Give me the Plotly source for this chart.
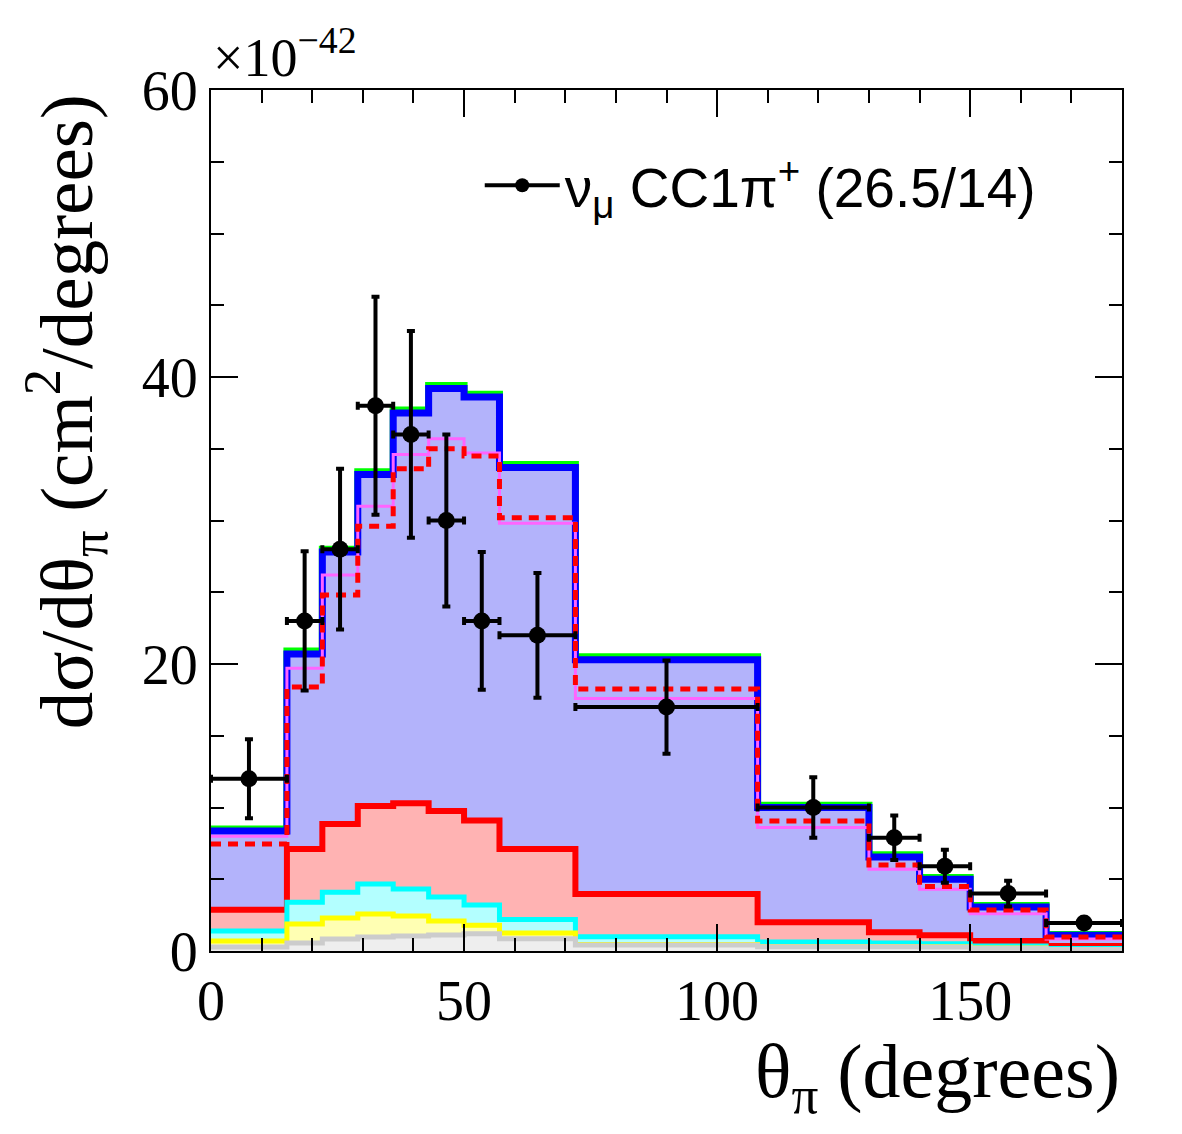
import plotly.graph_objects as go

# ---------------- data ----------------
bin_edges = [0, 15, 22, 29, 36, 43, 50, 57, 72, 108, 130, 140, 150, 165, 180]

# stacked model components (x1e-42 cm^2/degree), bottom to top
comp_gray   = [0.28, 0.56, 0.84, 0.98, 1.05, 1.12, 1.20, 0.85, 0.42, 0.30, 0.30, 0.28, 0.20, 0.10]
comp_yellow = [0.41, 1.32, 1.46, 1.60, 1.39, 0.97, 0.60, 0.40, 0.03, 0.02, 0.01, 0.01, 0.01, 0.01]
comp_cyan   = [0.70, 1.52, 1.80, 2.09, 1.88, 1.67, 1.40, 0.95, 0.55, 0.31, 0.24, 0.21, 0.14, 0.07]
comp_red    = [1.48, 3.70, 4.75, 5.43, 5.98, 6.00, 5.90, 4.90, 2.97, 1.37, 0.75, 0.60, 0.35, 0.17]
comp_blue   = [5.49, 13.60, 18.95, 23.10, 27.20, 29.44, 29.50, 26.60, 16.33, 8.00, 5.25, 3.90, 2.37, 0.75]
comp_green  = [0.15, 0.20, 0.20, 0.20, 0.20, 0.20, 0.20, 0.20, 0.20, 0.15, 0.15, 0.12, 0.10, 0.05]

# alternative model predictions
model_pink   = [8.0, 19.7, 26.2, 31.0, 34.6, 35.7, 34.7, 29.8, 17.6, 8.6, 5.7, 4.3, 2.6, 0.83]
model_dashed = [7.45, 18.4, 24.8, 29.6, 33.6, 35.0, 34.5, 30.2, 18.25, 9.06, 6.0, 4.5, 2.86, 0.98]

# data
data_y   = [12.0, 23.0, 28.0, 38.0, 36.0, 30.0, 23.0, 22.0, 17.0, 10.0, 7.9, 5.9, 4.0, 1.95]
data_err = [2.75, 4.85, 5.6, 7.6, 7.2, 6.0, 4.8, 4.35, 3.25, 2.1, 1.55, 1.15, 0.9, 0.3]

legend_label = "ν<sub>μ</sub> CC1π<sup>+</sup> (26.5/14)"
x_ticks = [0, 50, 100, 150]
y_ticks = [0, 20, 40, 60]

# ---------------- helpers ----------------
centers = [(a + b) / 2 for a, b in zip(bin_edges[:-1], bin_edges[1:])]
half_w = [(b - a) / 2 for a, b in zip(bin_edges[:-1], bin_edges[1:])]


def cumsum(*layers):
    out = [0.0] * len(layers[0])
    for l in layers:
        out = [o + v for o, v in zip(out, l)]
    return out


def step_y(vals):
    return list(vals) + [vals[-1]]


stack = [
    ("green", cumsum(comp_gray, comp_yellow, comp_cyan, comp_red, comp_blue, comp_green), "rgb(0,255,0)", "#b3ffb3", 7),
    ("blue", cumsum(comp_gray, comp_yellow, comp_cyan, comp_red, comp_blue), "rgb(0,0,255)", "#b3b3fb", 7),
    ("red", cumsum(comp_gray, comp_yellow, comp_cyan, comp_red), "rgb(255,0,0)", "#ffb3b3", 6),
    ("cyan", cumsum(comp_gray, comp_yellow, comp_cyan), "rgb(0,255,255)", "#b3ffff", 5),
    ("yellow", cumsum(comp_gray, comp_yellow), "rgb(255,255,0)", "#ffffb3", 5),
    ("gray", cumsum(comp_gray), "rgb(204,204,204)", "#eeeeee", 5),
]

fig = go.Figure()

for name, vals, lc, fc, lw in stack:
    fig.add_trace(go.Scatter(
        x=bin_edges, y=step_y(vals), mode="lines", line=dict(shape="hv", color=lc, width=lw),
        fill="tozeroy", fillcolor=fc, showlegend=False, hoverinfo="skip", name=name))

fig.add_trace(go.Scatter(
    x=bin_edges, y=step_y(model_pink), mode="lines",
    line=dict(shape="hv", color="rgb(255,100,255)", width=3), showlegend=False, hoverinfo="skip"))
fig.add_trace(go.Scatter(
    x=bin_edges, y=step_y(model_dashed), mode="lines",
    line=dict(shape="hv", color="rgb(255,0,0)", width=5, dash="10px,7px"), showlegend=False, hoverinfo="skip"))

# data points with errors
fig.add_trace(go.Scatter(
    x=centers, y=data_y, mode="markers", name=legend_label,
    marker=dict(color="black", size=17, symbol="circle"),
    error_y=dict(type="data", array=data_err, color="black", thickness=4, width=4),
    error_x=dict(type="data", array=half_w, color="black", thickness=4, width=4),
    showlegend=False))
# legend entry (line + marker glyph)
fig.add_trace(go.Scatter(x=[None], y=[None], mode="lines+markers", name=legend_label,
                         line=dict(color="black", width=4),
                         marker=dict(color="black", size=14), showlegend=True))

serif = "Liberation Serif, Times New Roman, Times, serif"
axis_common = dict(
    showline=True, linecolor="black", linewidth=2, mirror="allticks",
    ticks="inside", ticklen=27, tickwidth=2, tickcolor="black",
    showgrid=False, zeroline=False,
    tickfont=dict(family=serif, size=56, color="black"),
)

fig.update_xaxes(range=[0, 180], tickmode="array", tickvals=x_ticks,
                 ticktext=[str(v) for v in x_ticks],
                 minor=dict(dtick=10, ticks="inside", ticklen=13, tickwidth=2, tickcolor="black"),
                 **axis_common)
fig.update_yaxes(range=[0, 60], tickmode="array", tickvals=y_ticks,
                 ticktext=[str(v) for v in y_ticks],
                 minor=dict(dtick=5, ticks="inside", ticklen=13, tickwidth=2, tickcolor="black"),
                 **axis_common)

fig.update_layout(
    width=1182, height=1134,
    margin=dict(l=211, r=60, t=90, b=183),
    paper_bgcolor="white", plot_bgcolor="white",
    font=dict(family=serif, color="black"),
    legend=dict(x=0.295, y=0.889, xanchor="left", yanchor="middle",
                font=dict(family="Liberation Sans, Arial, sans-serif", size=55, color="black"),
                bgcolor="rgba(0,0,0,0)", itemwidth=75),
    annotations=[
        dict(text="×10<sup>−42</sup>", xref="paper", yref="paper", x=0.0, y=1.0,
             xanchor="left", yanchor="bottom", showarrow=False,
             font=dict(family=serif, size=54, color="black")),
        dict(text="dσ/dθ<sub>π</sub> (cm<sup>2</sup>/degrees)", xref="paper", yref="paper",
             x=-0.16, y=0.997, xanchor="center", yanchor="top", textangle=-90, showarrow=False,
             font=dict(family=serif, size=75, color="black")),
        dict(text="θ<sub>π</sub> (degrees)", xref="paper", yref="paper",
             x=1.0, y=-0.146, xanchor="right", yanchor="middle", showarrow=False,
             font=dict(family=serif, size=76, color="black")),
    ],
)

fig.write_html("out.html")
